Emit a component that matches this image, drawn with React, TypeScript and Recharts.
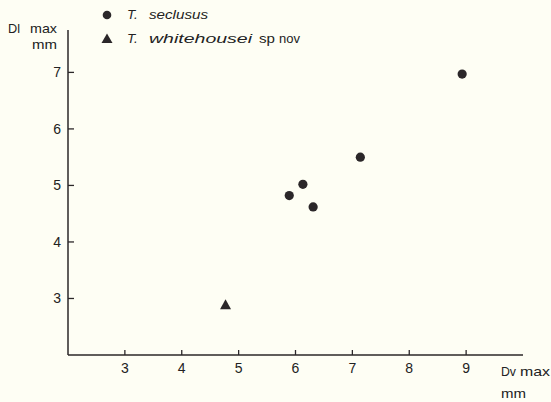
import { ScatterChart, Scatter, XAxis, YAxis } from 'recharts'

const seclusus = [
  { dv: 5.89, dl: 4.82 },
  { dv: 6.13, dl: 5.02 },
  { dv: 6.31, dl: 4.62 },
  { dv: 7.14, dl: 5.5 },
  { dv: 8.93, dl: 6.97 },
]

const whitehousei = [{ dv: 4.77, dl: 2.88 }]

const xTicks = [3, 4, 5, 6, 7, 8, 9]
const yTicks = [3, 4, 5, 6, 7]

const INK = '#2b2729'
const TXT = '#222'
const FONT = '"Liberation Sans", Arial, sans-serif'

const Dot = (props: any) => <circle cx={props.cx} cy={props.cy} r={4.6} fill={INK} />

const Tri = (props: any) => {
  const { cx, cy } = props
  return <polygon points={`${cx},${cy - 6} ${cx - 5.5},${cy + 4} ${cx + 5.5},${cy + 4}`} fill={INK} />
}

// stretched text, the scanned type is wide
const W = ({ x, y, w, italic, children }: any) => (
  <text x={x} y={y} textLength={w} lengthAdjust="spacingAndGlyphs" fontStyle={italic ? 'italic' : undefined}>
    {children}
  </text>
)

// legend and axis titles, drawn over the chart
function Overlay() {
  return (
    <svg
      width={551}
      height={402}
      style={{ position: 'absolute', left: 0, top: 0, pointerEvents: 'none' }}
      fontFamily={FONT}
      fontSize={13.5}
      fill={TXT}
    >
      <circle cx={107} cy={15} r={4.3} fill={INK} />
      <text x={127} y={19} fontStyle="italic">T.</text>
      <W x={149} y={19} w={59} italic>seclusus</W>

      <polygon points="107,33.5 101.5,43 112.5,43" fill={INK} />
      <text x={127} y={43} fontStyle="italic">T.</text>
      <W x={149} y={43} w={103} italic>whitehousei</W>
      <W x={259} y={43} w={16}>sp</W>
      <W x={279} y={43} w={21}>nov</W>

      <W x={8} y={33} w={12}>Dl</W>
      <W x={30} y={33} w={27}>max</W>
      <W x={32} y={49} w={25}>mm</W>

      <W x={501} y={376} w={15}>Dv</W>
      <W x={520} y={376} w={30}>max</W>
      <W x={501} y={398} w={25}>mm</W>
    </svg>
  )
}

export default function App() {
  return (
    <div style={{ position: 'fixed', left: 0, top: 0, width: 551, height: 402, background: '#fefef4' }}>
      <ScatterChart width={551} height={402} margin={{ top: 30, right: 28, bottom: 17, left: 40 }}>
        <XAxis
          type="number"
          dataKey="dv"
          domain={[2, 10]}
          ticks={xTicks}
          allowDataOverflow
          height={30}
          tickSize={-5}
          tickMargin={13}
          tick={{ fontSize: 14, fill: TXT, fontFamily: FONT }}
          stroke={INK}
          axisLine={{ stroke: INK, strokeWidth: 1.5 }}
          tickLine={{ stroke: INK, strokeWidth: 1.3 }}
        />
        <YAxis
          type="number"
          dataKey="dl"
          domain={[2, 7.75]}
          ticks={yTicks}
          allowDataOverflow
          width={28}
          tickSize={-6}
          tickMargin={13}
          tick={{ fontSize: 14, fill: TXT, fontFamily: FONT }}
          stroke={INK}
          axisLine={{ stroke: INK, strokeWidth: 1.5 }}
          tickLine={{ stroke: INK, strokeWidth: 1.3 }}
        />
        <Scatter name="T. seclusus" data={seclusus} shape={Dot} isAnimationActive={false} />
        <Scatter name="T. whitehousei sp nov" data={whitehousei} shape={Tri} isAnimationActive={false} />
      </ScatterChart>
      <Overlay />
    </div>
  )
}
